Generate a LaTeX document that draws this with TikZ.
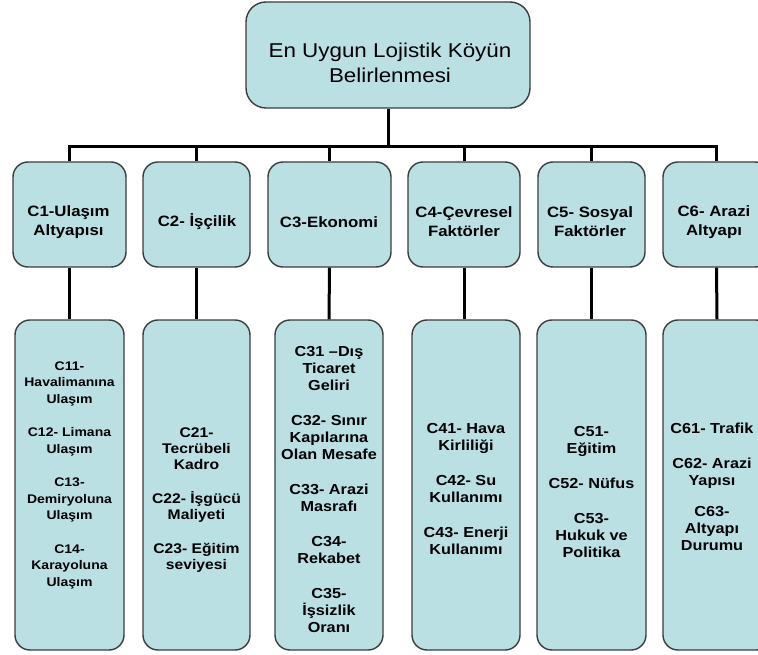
\documentclass[tikz,border=0pt]{standalone}
\usepackage{fontspec}
\setmainfont[FakeStretch=1.12]{Liberation Sans}
\definecolor{boxfill}{RGB}{186,224,228}
\definecolor{boxline}{RGB}{60,60,60}
\begin{document}
\begin{tikzpicture}[x=1pt,y=-1pt,
  box/.style={draw=boxline, fill=boxfill, line width=1.4pt, rounded corners=15pt, inner sep=0pt},
  conn/.style={line width=3pt, black},
  roottxt/.style={align=center, inner sep=0pt, font=\fontsize{20}{25}\selectfont},
  lonetxt/.style={align=center, inner sep=0pt, font=\bfseries\fontsize{15}{19}\selectfont},
  ltwotxt/.style={align=center, inner sep=0pt, font=\bfseries\fontsize{14.5}{17}\selectfont},
  lonesmall/.style={align=center, inner sep=0pt, font=\bfseries\fontsize{12.5}{16.5}\selectfont}
]
\useasboundingbox (0,0) rectangle (758,655);
\clip (0,0) rectangle (758,655);

% root
\node[box, rounded corners=20pt, minimum width=284pt, minimum height=106pt] (root) at (388,55) {};
\node[roottxt] (roott) at (390,63) {En Uygun Lojistik Köyün\\Belirlenmesi};

% level 1
\node[box, minimum width=113pt, minimum height=105pt] (c1) at (69.5,214.5) {};
\node[box, minimum width=107pt, minimum height=105pt] (c2) at (196.5,214.5) {};
\node[box, minimum width=123pt, minimum height=105pt] (c3) at (329.5,214.5) {};
\node[box, minimum width=112pt, minimum height=105pt] (c4) at (464,214.5) {};
\node[box, minimum width=107pt, minimum height=105pt] (c5) at (591.5,214.5) {};
\node[box, minimum width=107pt, minimum height=105pt] (c6) at (716.5,214.5) {};

\node[lonetxt] (c1t) at (68.5,222) {C1-Ulaşım\\Altyapısı};
\node[lonetxt] (c2t) at (197,222) {C2- İşçilik};
\node[lonetxt] (c3t) at (329,222) {C3-Ekonomi};
\node[lonetxt] (c4t) at (464,222) {C4-Çevresel\\Faktörler};
\node[lonetxt] (c5t) at (590,222) {C5- Sosyal\\Faktörler};
\node[lonetxt] (c6t) at (714,222) {C6- Arazi\\Altyapı};

% level 2
\node[box, minimum width=109pt, minimum height=330pt] (c11) at (69.5,485) {};
\node[box, minimum width=107pt, minimum height=330pt] (c21) at (196.5,485) {};
\node[box, minimum width=108pt, minimum height=330pt] (c31) at (329,485) {};
\node[box, minimum width=108pt, minimum height=330pt] (c41) at (466,485) {};
\node[box, minimum width=109pt, minimum height=330pt] (c51) at (591.5,485) {};
\node[box, minimum width=108pt, minimum height=330pt] (c61) at (717,485) {};

\node[lonesmall] (c11t) at (69.5,475) {C11-\\Havalimanına\\Ulaşım\\[17pt]C12- Limana\\Ulaşım\\[17pt]C13-\\Demiryoluna\\Ulaşım\\[17pt]C14-\\Karayoluna\\Ulaşım};
\node[ltwotxt, font=\bfseries\fontsize{14}{16}\selectfont] (c21t) at (196.5,500) {C21-\\Tecrübeli\\Kadro\\[18pt]C22- İşgücü\\Maliyeti\\[18pt]C23- Eğitim\\seviyesi};
\node[ltwotxt] (c31t) at (329,490) {C31 –Dış\\Ticaret\\Geliri\\[18pt]C32- Sınır\\Kapılarına\\Olan Mesafe\\[18pt]C33- Arazi\\Masrafı\\[18pt]C34-\\Rekabet\\[18pt]C35-\\İşsizlik\\Oranı};
\node[ltwotxt] (c41t) at (466,489.5) {C41- Hava\\Kirliliği\\[18pt]C42- Su\\Kullanımı\\[18pt]C43- Enerji\\Kullanımı};
\node[ltwotxt] (c51t) at (591.5,492) {C51-\\Eğitim\\[18pt]C52- Nüfus\\[18pt]C53-\\Hukuk ve\\Politika};
\node[ltwotxt] (c61t) at (712,487) {C61- Trafik\\[18pt]C62- Arazi\\Yapısı\\[14pt]C63-\\Altyapı\\Durumu};

% connectors
\coordinate (bus) at (0,147);
\draw[conn] (root.south) -- (root.south |- bus);
\draw[conn, line cap=rect] (c1.north |- bus) -- (c6.north |- bus);
\foreach \n in {c1,c2,c3,c4,c5,c6}{
  \draw[conn] (\n.north |- bus) -- (\n.north);
}
\draw[conn] (c1.south) -- (c11.north);
\draw[conn] (c2.south) -- (c21.north);
\draw[conn] (c3.south) -- (c31.north);
\draw[conn] (c4.south) -- (c4.south |- c41.north);
\draw[conn] (c5.south) -- (c51.north);
\draw[conn] (c6.south) -- (c61.north);
\end{tikzpicture}
\end{document}
